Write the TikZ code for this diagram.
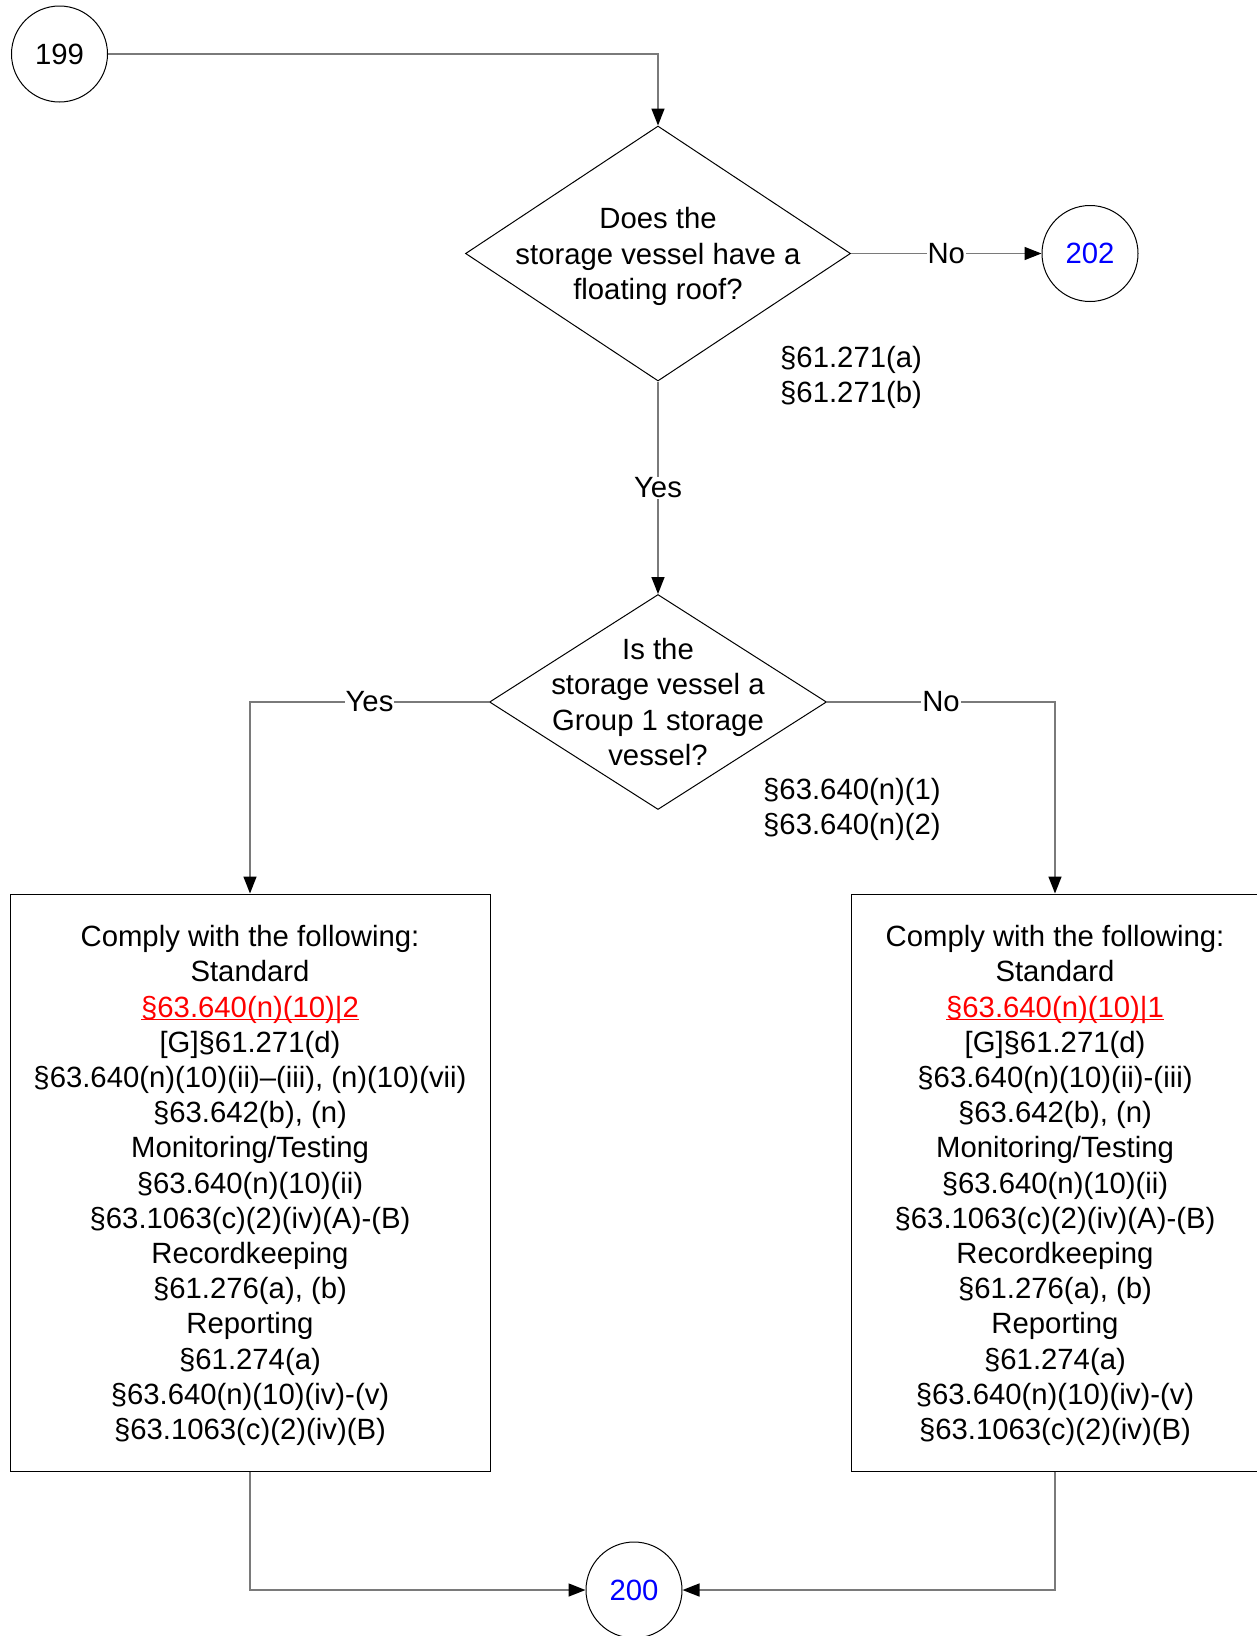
\documentclass[tikz,border=0pt]{standalone}
\usepackage{fontspec}
\setmainfont{Liberation Sans}
\usetikzlibrary{shapes.geometric,arrows.meta,positioning}
\definecolor{LinkBlue}{HTML}{0000FF}
\definecolor{LineGray}{HTML}{7A7A7A}
\newcommand{\refuline}[1]{\setbox0\hbox{#1}\rlap{\rule[-3pt]{\wd0}{1.5pt}}\box0}

\begin{document}
\begin{tikzpicture}[x=1pt, y=-1pt,
    font=\fontsize{29.3}{35.2}\selectfont,
    conn/.style={draw=LineGray, line width=1.5pt},
    arr/.style={conn, -{Triangle[length=17pt, width=13pt, color=black]}},
    offpage/.style={draw, circle, line width=1pt, minimum size=96pt, inner sep=0pt},
    decision/.style={draw, diamond, line width=1pt, inner sep=0pt},
    actionbox/.style={draw, line width=1pt, align=center, minimum height=577pt, inner sep=0pt, text depth=0pt},
    reftext/.style={anchor=west, align=left, inner sep=0pt, text depth=0pt},
    choice/.style={fill=white, inner sep=1pt}]
    \useasboundingbox (0,0) rectangle (1256,1636);

    % connectors in and out
    \node[offpage] (c199) at (59.5,54) {199};
    \node[offpage, text=LinkBlue] (c202) at (1090,253.5) {202};
    \node[offpage, text=LinkBlue] (c200) at (634,1590) {200};

    % first question
    \node[decision, minimum width=385pt, minimum height=255pt] (q1) at (658,253.5) {};
    \node[align=center, inner sep=0pt, text depth=0pt] (q1text) at (q1) {Does the\\storage vessel have a\\floating roof?};
    \node[reftext] (q1ref) at (780,374) {§61.271(a)\\§61.271(b)};

    % second question
    \node[decision, minimum width=337pt, minimum height=215pt] (q2) at (658,702) {};
    \node[align=center, inner sep=0pt] (q2text) at (q2) {Is the\\storage vessel a\\Group 1 storage\\vessel?};
    \node[reftext] (q2ref) at (763,806) {§63.640(n)(1)\\§63.640(n)(2)};

    % requirement boxes
    \node[actionbox, minimum width=480pt] (yesbox) at (250,1182.5) {Comply with the following:\\Standard\\
        {\color{red}\refuline{§63.640(n)(10)|2}}\\{[G]}§61.271(d)\\§63.640(n)(10)(ii)–(iii), (n)(10)(vii)\\
        §63.642(b), (n)\\Monitoring/Testing\\§63.640(n)(10)(ii)\\§63.1063(c)(2)(iv)(A)-(B)\\
        Recordkeeping\\§61.276(a), (b)\\Reporting\\§61.274(a)\\§63.640(n)(10)(iv)-(v)\\§63.1063(c)(2)(iv)(B)};
    \node[actionbox, minimum width=408pt] (nobox) at (1055,1182.5) {Comply with the following:\\Standard\\
        {\color{red}\refuline{§63.640(n)(10)|1}}\\{[G]}§61.271(d)\\§63.640(n)(10)(ii)-(iii)\\
        §63.642(b), (n)\\Monitoring/Testing\\§63.640(n)(10)(ii)\\§63.1063(c)(2)(iv)(A)-(B)\\
        Recordkeeping\\§61.276(a), (b)\\Reporting\\§61.274(a)\\§63.640(n)(10)(iv)-(v)\\§63.1063(c)(2)(iv)(B)};

    % flow
    \draw[arr] (c199) -| (q1);
    \draw[arr] (q1) -- node[choice] {No} (c202);
    \draw[arr] (q1) -- node[choice] {Yes} (q2);
    \draw[arr] (q2) -| node[choice, pos=0.25] {Yes} (yesbox);
    \draw[arr] (q2) -| node[choice, pos=0.25] {No} (nobox);
    \draw[arr] (yesbox) |- (c200);
    \draw[arr] (nobox) |- (c200);
\end{tikzpicture}
\end{document}
